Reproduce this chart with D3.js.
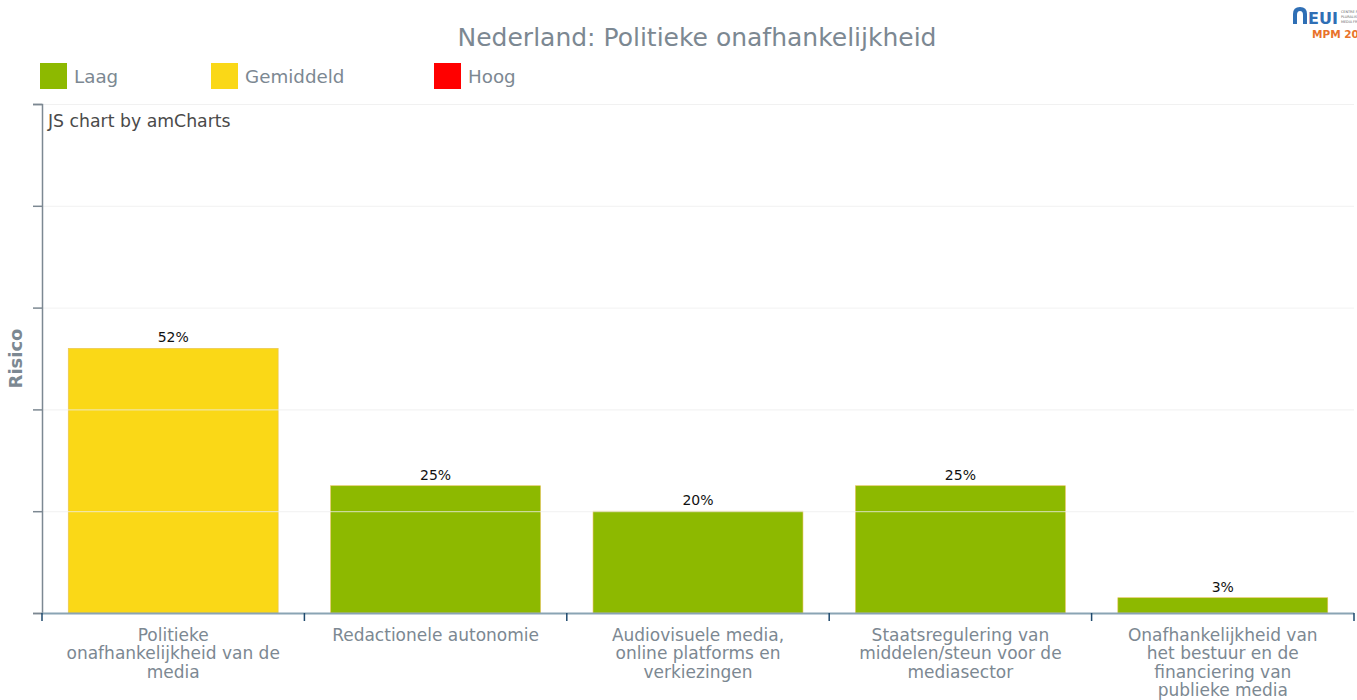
<!DOCTYPE html>
<meta charset="utf-8">
<script src="https://d3js.org/d3.v7.min.js"></script>
<style>
  body { margin: 0; background: #fff; }
  text { font-family: "DejaVu Sans", Verdana, sans-serif; }
</style>
<body>
<script>
  const categories = [
    ["Politieke", "onafhankelijkheid van de", "media"],
    ["Redactionele autonomie"],
    ["Audiovisuele media,", "online platforms en", "verkiezingen"],
    ["Staatsregulering van", "middelen/steun voor de", "mediasector"],
    ["Onafhankelijkheid van", "het bestuur en de", "financiering van", "publieke media"]
  ];
  const values = [52, 25, 20, 25, 3];
  const levels = ["Gemiddeld", "Laag", "Laag", "Laag", "Laag"];
  const legendItems = ["Laag", "Gemiddeld", "Hoog"];
  const yTicks = [0, 20, 40, 60, 80, 100];

  const width = 1357, height = 700;
  const plotLeft = 42, plotRight = 1354, plotTop = 104, plotBottom = 613;
  const grey = "#7c8892";

  const colour = d3.scaleOrdinal()
    .domain(legendItems)
    .range(["#8db900", "#fad817", "#ff0000"]);

  const svg = d3.select("body").append("svg")
    .attr("width", width)
    .attr("height", height);

  // title
  svg.append("text")
    .attr("x", 697).attr("y", 46)
    .attr("text-anchor", "middle")
    .attr("font-size", "25px")
    .attr("fill", grey)
    .text("Nederland: Politieke onafhankelijkheid");

  // logo (top right, partly off the page like the original)
  const logo = svg.append("g").attr("transform", "translate(1293,6)");
  logo.append("path")
    .attr("d", "M0,18 L0,8 Q0,1 7,1 Q14,1 14,8 L14,18 L10,18 L10,9 Q10,5 7,5 Q4,5 4,9 L4,18 Z")
    .attr("fill", "#2f6fb5");
  logo.append("text").attr("x", 15).attr("y", 18)
    .attr("font-size", "16px").attr("font-weight", "bold")
    .attr("fill", "#2f6fb5").text("EUI");
  ["CENTRE FO", "PLURALIS", "MEDIA FR"].forEach(function(t, i) {
    logo.append("text").attr("x", 48).attr("y", 7 + i * 5)
      .attr("font-size", "3.4px").attr("fill", "#666").text(t);
  });
  logo.append("text").attr("x", 19).attr("y", 32)
    .attr("font-size", "10.5px").attr("font-weight", "bold")
    .attr("fill", "#e8722a").text("MPM 20");

  // legend
  const legendX = [40, 211, 434];
  const legend = svg.selectAll(".legend")
    .data(legendItems)
    .enter().append("g")
    .attr("transform", function(d, i) { return "translate(" + legendX[i] + ",63)"; });
  legend.append("rect")
    .attr("width", 27).attr("height", 26)
    .attr("fill", function(d) { return colour(d); });
  legend.append("text")
    .attr("x", 34).attr("y", 20)
    .attr("font-size", "18.3px")
    .attr("fill", grey)
    .text(function(d) { return d; });

  const x = d3.scaleBand()
    .domain(d3.range(values.length))
    .range([plotLeft, plotRight])
    .paddingInner(0.2)
    .paddingOuter(0.1);

  const y = d3.scaleLinear()
    .domain([0, 100])
    .range([plotBottom, plotTop]);

  // bars
  svg.selectAll(".bar")
    .data(values)
    .enter().append("rect")
    .attr("x", function(d, i) { return x(i); })
    .attr("y", function(d) { return y(d); })
    .attr("width", x.bandwidth())
    .attr("height", function(d) { return y(0) - y(d); })
    .attr("fill", function(d, i) { return colour(levels[i]); })
    .attr("stroke", "#e8c25a")
    .attr("stroke-width", 0.6);

  // grid lines drawn over the bars, like amCharts does
  svg.selectAll(".grid")
    .data(yTicks.slice(1))
    .enter().append("line")
    .attr("x1", plotLeft).attr("x2", plotRight)
    .attr("y1", function(d) { return y(d) + 0.5; })
    .attr("y2", function(d) { return y(d) + 0.5; })
    .attr("stroke", "#eeeeee")
    .attr("stroke-opacity", 0.8);

  // credit text
  svg.append("text")
    .attr("x", 48).attr("y", 127)
    .attr("font-size", "17.3px")
    .attr("fill", "#4a4a4a")
    .text("JS chart by amCharts");

  // value labels
  svg.selectAll(".val")
    .data(values)
    .enter().append("text")
    .attr("x", function(d, i) { return x(i) + x.bandwidth() / 2; })
    .attr("y", function(d) { return y(d) - 6; })
    .attr("text-anchor", "middle")
    .attr("font-size", "14px")
    .attr("fill", "#111")
    .text(function(d) { return d + "%"; });

  // y axis (no labels)
  const yAxis = svg.append("g")
    .attr("transform", "translate(" + plotLeft + ",0)")
    .call(d3.axisLeft(y).tickValues(yTicks).tickSize(9).tickFormat(""));
  yAxis.selectAll("line, path").attr("stroke", "#7c8892").attr("stroke-width", 1.5);

  svg.append("text")
    .attr("transform", "translate(22," + ((plotTop + plotBottom) / 2) + ") rotate(-90)")
    .attr("text-anchor", "middle")
    .attr("font-size", "18px")
    .attr("font-weight", "bold")
    .attr("fill", grey)
    .text("Risico");

  // x axis
  svg.append("line")
    .attr("x1", plotLeft).attr("x2", plotRight)
    .attr("y1", plotBottom + 0.5).attr("y2", plotBottom + 0.5)
    .attr("stroke", "#8aa4b4").attr("stroke-width", 2);

  const edges = d3.range(values.length + 1).map(function(i) {
    return i < values.length ? x(i) - x.step() * x.paddingInner() / 2 : plotRight;
  });
  svg.selectAll(".xtick")
    .data(edges)
    .enter().append("line")
    .attr("x1", function(d) { return d; }).attr("x2", function(d) { return d; })
    .attr("y1", plotBottom).attr("y2", plotBottom + 8)
    .attr("stroke", "#1f4a6e").attr("stroke-width", 1.5);

  const labels = svg.selectAll(".xlab")
    .data(categories)
    .enter().append("text")
    .attr("text-anchor", "middle")
    .attr("font-size", "17px")
    .attr("fill", grey);
  labels.selectAll("tspan")
    .data(function(d, i) { return d.map(function(t) { return { t: t, i: i }; }); })
    .enter().append("tspan")
    .attr("x", function(d) { return x(d.i) + x.bandwidth() / 2; })
    .attr("y", function(d, j) { return 641 + j * 18.3; })
    .text(function(d) { return d.t; });
</script>
</body>
